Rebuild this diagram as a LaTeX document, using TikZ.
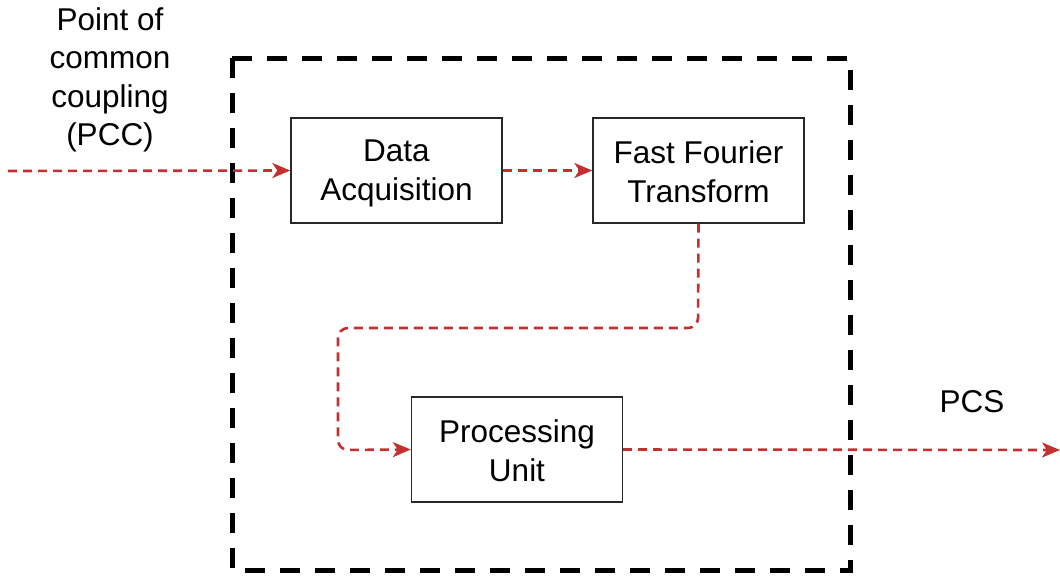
\documentclass[tikz,border=0pt]{standalone}
\usepackage{fontspec}
\setmainfont{Liberation Sans}
\usetikzlibrary{arrows.meta}
\definecolor{flowred}{RGB}{196,48,48}
\definecolor{boxline}{RGB}{40,40,40}
\begin{document}
\begin{tikzpicture}[x=1pt,y=-1pt,
  block/.style={draw=boxline,line width=1.4pt,minimum width=211pt,minimum height=105pt,
    inner sep=0pt},
  label/.style={align=center,inner sep=0pt,font=\fontsize{31.5}{38.5}\selectfont},
  flow/.style={draw=flowred,line width=2.6pt,dash pattern=on 9pt off 6pt,
    -{Stealth[length=18pt,width=15pt,inset=5pt]},rounded corners=10pt},
  frame/.style={draw=black,line width=5pt,dash pattern=on 20pt off 15pt}]
\useasboundingbox (0,0) rectangle (1060,576);
% enclosing system boundary
\draw[frame] (232,58) rectangle (850,570);
% processing blocks
\node[block] (daq) at (396.5,170.5) {};
\node[block] (fft) at (698.5,170.5) {};
\node[block] (pu) at (517,449.5) {};
% block captions
\node[label] (daqt) at ([yshift=-3pt]daq.center) {Data\\Acquisition};
\node[label] (fftt) at ([yshift=-1pt]fft.center) {Fast Fourier\\Transform};
\node[label] (put) at ([yshift=-1pt]pu.center) {Processing\\Unit};
% labels
\node[label] (pcc) at (110,80) {Point of\\common\\coupling\\(PCC)};
\node[label] (pcs) at (972,402) {PCS};
% end points of the external signals
\coordinate (in) at (8,171);
\coordinate (out) at (1060,450);
% signal flow
\draw[flow] (in) -- (daq.west);
\draw[flow] (daq.east) -- (fft.west);
\draw[flow] (fft.south) -- (698,328) -- (338,328) -- (338,450) -- (pu.west);
\draw[flow] (pu.east) -- (out);
\end{tikzpicture}
\end{document}
